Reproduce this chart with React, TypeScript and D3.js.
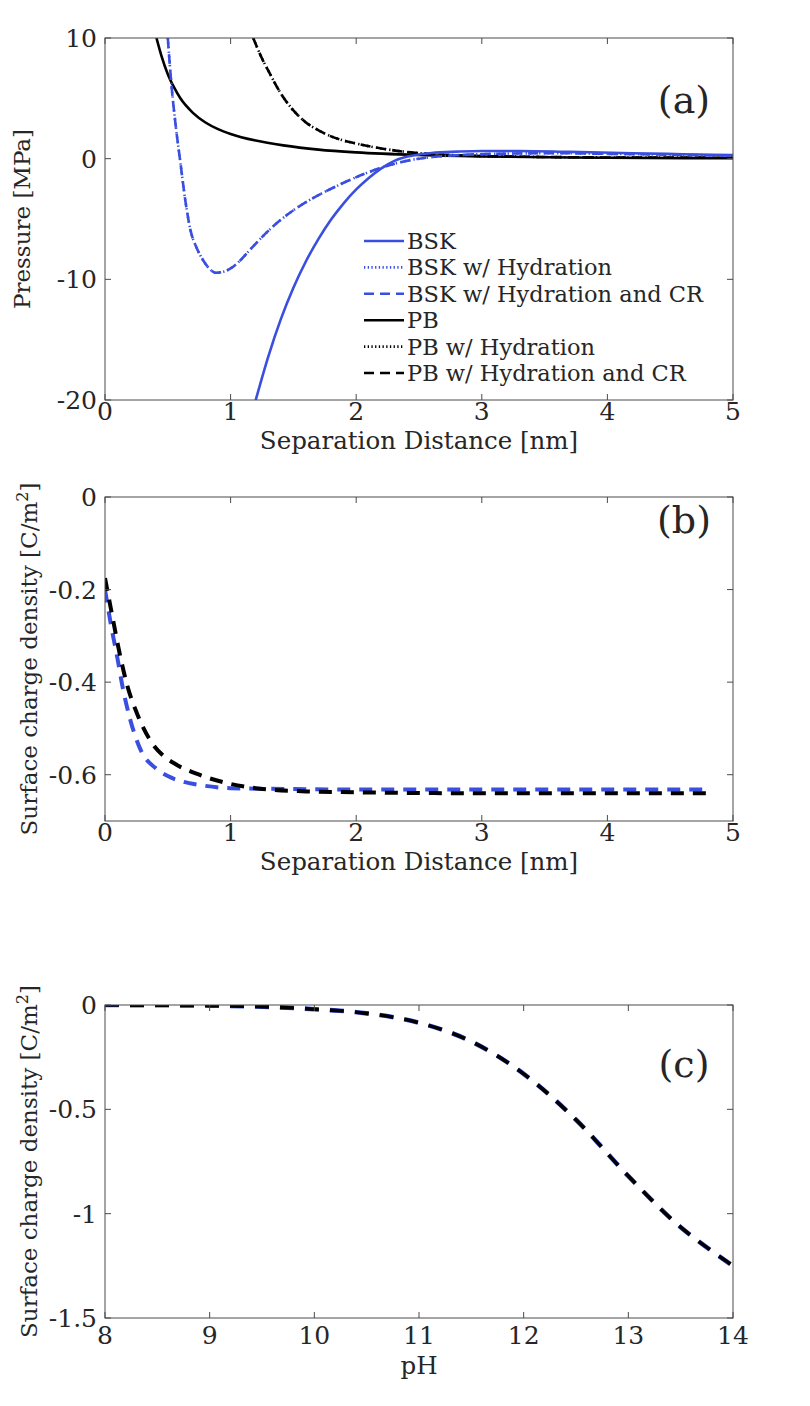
import React from "react";
import * as d3 from "d3";

// ---------- data ----------
// Panel (a): pressure [MPa] vs separation distance [nm]
const pbX = [0.41, 0.45, 0.5, 0.55, 0.6, 0.7, 0.8, 0.9, 1.0, 1.2, 1.42, 1.7, 2.0, 2.5, 3.0, 4.0, 5.0];
const pbY = [10, 8.5, 7.0, 5.9, 5.0, 3.8, 3.0, 2.45, 2.05, 1.5, 1.1, 0.75, 0.52, 0.3, 0.18, 0.08, 0.03];

const pbHydX = [1.18, 1.25, 1.3, 1.4, 1.5, 1.6, 1.7, 1.8, 2.0, 2.2, 2.5, 3.0, 3.5, 4.0, 5.0];
const pbHydY = [10, 8.3, 7.3, 5.4, 4.0, 3.0, 2.35, 1.85, 1.25, 0.85, 0.45, 0.22, 0.14, 0.1, 0.08];

const bskX = [1.2, 1.3, 1.4, 1.5, 1.6, 1.7, 1.8, 1.9, 2.0, 2.1, 2.2, 2.3, 2.4, 2.5, 2.6, 2.8, 3.0, 3.3, 3.7, 4.2, 4.6, 5.0];
const bskY = [-20, -16.4, -13.3, -10.7, -8.5, -6.65, -5.05, -3.7, -2.55, -1.6, -0.8, -0.2, 0.15, 0.35, 0.47, 0.58, 0.64, 0.64, 0.56, 0.45, 0.37, 0.3];

const bskHydX = [0.5, 0.53, 0.56, 0.6, 0.64, 0.68, 0.73, 0.78, 0.83, 0.88, 0.95, 1.0, 1.07, 1.15, 1.25, 1.35, 1.47, 1.6, 1.75, 1.9, 2.08, 2.2, 2.35, 2.5, 2.65, 2.83, 3.2, 3.6, 4.0, 4.5, 5.0];
const bskHydY = [10, 6, 3, -0.3, -3.5, -5.9, -7.4, -8.4, -9.1, -9.45, -9.35, -9.1, -8.5, -7.6, -6.5, -5.5, -4.5, -3.6, -2.75, -2.0, -1.2, -0.75, -0.3, 0.0, 0.18, 0.3, 0.42, 0.45, 0.4, 0.33, 0.25];

// Panel (b): surface charge density [C/m^2] vs separation distance [nm]
const sepBlueX = [0, 0.05, 0.1, 0.14, 0.2, 0.29, 0.4, 0.5, 0.62, 0.75, 1.0, 1.5, 2.0, 3.0, 4.0, 4.8];
const sepBlueY = [-0.2, -0.28, -0.35, -0.41, -0.48, -0.55, -0.585, -0.603, -0.615, -0.622, -0.629, -0.631, -0.632, -0.632, -0.632, -0.632];
const sepBlackX = [0, 0.06, 0.115, 0.18, 0.254, 0.37, 0.46, 0.56, 0.75, 1.0, 1.3, 1.6, 2.0, 3.0, 4.0, 4.8];
const sepBlackY = [-0.175, -0.26, -0.336, -0.41, -0.467, -0.53, -0.558, -0.577, -0.6, -0.62, -0.632, -0.636, -0.638, -0.64, -0.64, -0.64];

// Panel (c): surface charge density [C/m^2] vs pH
const phX = [8, 8.5, 9, 9.5, 10, 10.5, 11, 11.5, 12, 12.5, 13, 13.5, 13.8, 14];
const phY = [0, -0.001, -0.003, -0.008, -0.02, -0.04, -0.085, -0.175, -0.33, -0.55, -0.82, -1.065, -1.18, -1.25];

const ticksA_X = [0, 1, 2, 3, 4, 5];
const ticksA_Y = [10, 0, -10, -20];
const ticksB_X = [0, 1, 2, 3, 4, 5];
const ticksB_Y = [0, -0.2, -0.4, -0.6];
const ticksC_X = [8, 9, 10, 11, 12, 13, 14];
const ticksC_Y = [0, -0.5, -1, -1.5];

const legendLabels = [
  "BSK",
  "BSK w/ Hydration",
  "BSK w/ Hydration and CR",
  "PB",
  "PB w/ Hydration",
  "PB w/ Hydration and CR",
];

// ---------- styles ----------
const BLUE = "#3a4fe0";
const BLACK = "#000000";
const AXIS = "#4a4a4a";
const TXT = "#262626";
const FONT = "'DejaVu Serif', 'Liberation Serif', serif";

const PL = 105;
const PR = 733;

type Series = { xs: number[]; ys: number[]; color: string; width: number; dash?: string };

function zip(xs: number[], ys: number[]): [number, number][] {
  return xs.map((x, i) => [x, ys[i]]);
}

function Panel(props: {
  id: string;
  top: number;
  bottom: number;
  xDomain: [number, number];
  yDomain: [number, number];
  xTicks: number[];
  yTicks: number[];
  series: Series[];
  xTitle: string;
  yTitle: React.ReactNode;
  yTitleX: number;
  tag: string;
  tagY: number;
  xTickOffset: number;
  xTitleOffset: number;
  children?: React.ReactNode;
}) {
  const { id, top, bottom } = props;
  const x = d3.scaleLinear().domain(props.xDomain).range([PL, PR]);
  const y = d3.scaleLinear().domain(props.yDomain).range([bottom, top]);
  const tl = 6;
  const line = d3
    .line<[number, number]>()
    .x((d) => x(d[0]))
    .y((d) => y(d[1]))
    .curve(d3.curveMonotoneX);
  return (
    <g>
      <defs>
        <clipPath id={id}>
          <rect x={PL} y={top} width={PR - PL} height={bottom - top} />
        </clipPath>
      </defs>
      <g clipPath={`url(#${id})`}>
        {props.series.map((s, i) => (
          <path
            key={i}
            d={line(zip(s.xs, s.ys)) || ""}
            fill="none"
            stroke={s.color}
            strokeWidth={s.width}
            strokeDasharray={s.dash}
            strokeLinejoin="round"
          />
        ))}
      </g>
      <rect x={PL} y={top} width={PR - PL} height={bottom - top} fill="none" stroke={AXIS} strokeWidth={1} />
      {props.xTicks.map((t) => (
        <g key={"xt" + t}>
          <line x1={x(t)} x2={x(t)} y1={bottom} y2={bottom - tl} stroke={AXIS} />
          <line x1={x(t)} x2={x(t)} y1={top} y2={top + tl} stroke={AXIS} />
          <text x={x(t)} y={bottom + props.xTickOffset} textAnchor="middle" fontFamily={FONT} fontSize={25} fill={TXT}>
            {String(t)}
          </text>
        </g>
      ))}
      {props.yTicks.map((t) => (
        <g key={"yt" + t}>
          <line x1={PL} x2={PL + tl} y1={y(t)} y2={y(t)} stroke={AXIS} />
          <line x1={PR} x2={PR - tl} y1={y(t)} y2={y(t)} stroke={AXIS} />
          <text x={PL - 8} y={y(t) + 9} textAnchor="end" fontFamily={FONT} fontSize={25} fill={TXT}>
            {String(t)}
          </text>
        </g>
      ))}
      <text
        x={(PL + PR) / 2}
        y={bottom + props.xTitleOffset}
        textAnchor="middle"
        fontFamily={FONT}
        fontSize={24.5}
        fill={TXT}
      >
        {props.xTitle}
      </text>
      <text
        transform={`translate(${props.yTitleX},${(top + bottom) / 2}) rotate(-90)`}
        textAnchor="middle"
        fontFamily={FONT}
        fontSize={23}
        fill={TXT}
      >
        {props.yTitle}
      </text>
      <text x={684} y={props.tagY} textAnchor="middle" fontFamily={FONT} fontSize={38} fill={TXT}>
        {props.tag}
      </text>
      {props.children}
    </g>
  );
}

const DOT = "1.3 3.2";
const DASH = "10 6";

const seriesA: Series[] = [
  { xs: pbX, ys: pbY, color: BLACK, width: 2.6 },
  { xs: pbHydX, ys: pbHydY, color: BLACK, width: 2.6, dash: DOT },
  { xs: pbHydX, ys: pbHydY, color: BLACK, width: 2.6, dash: DASH },
  { xs: bskX, ys: bskY, color: BLUE, width: 2.6 },
  { xs: bskHydX, ys: bskHydY, color: BLUE, width: 2.6, dash: DOT },
  { xs: bskHydX, ys: bskHydY, color: BLUE, width: 2.6, dash: DASH },
];

const legendStyles = [
  { color: BLUE, dash: undefined as string | undefined },
  { color: BLUE, dash: "1.3 2.4" },
  { color: BLUE, dash: "10 6" },
  { color: BLACK, dash: undefined },
  { color: BLACK, dash: "1.3 2.4" },
  { color: BLACK, dash: "10 6" },
];

const seriesB: Series[] = [
  { xs: sepBlueX, ys: sepBlueY, color: BLUE, width: 4, dash: "13 9" },
  { xs: sepBlackX, ys: sepBlackY, color: BLACK, width: 4, dash: "13 9" },
];

const seriesC: Series[] = [
  { xs: phX, ys: phY, color: BLUE, width: 4.6, dash: "14 11" },
  { xs: phX, ys: phY, color: BLACK, width: 3.6, dash: "14 11" },
];

const scdTitle = (
  <>
    Surface charge density [C/m
    <tspan dy={-9} fontSize={16}>
      2
    </tspan>
    <tspan dy={9}>]</tspan>
  </>
);

export default function App() {
  return (
    <svg width={810} height={1406} style={{ display: "block", position: "absolute", left: 0, top: 0, background: "#fff" }}>
      <rect x={0} y={0} width={810} height={1406} fill="#fff" />
      <Panel
        id="clipA"
        top={38}
        bottom={400}
        xDomain={[0, 5]}
        yDomain={[-20, 10]}
        xTicks={ticksA_X}
        yTicks={ticksA_Y}
        series={seriesA}
        xTitle="Separation Distance [nm]"
        yTitle="Pressure [MPa]"
        yTitleX={30}
        tag="(a)"
        tagY={113}
        xTickOffset={20}
        xTitleOffset={49}
      >
        <g>
          {legendLabels.map((lab, i) => {
            const ly = 241 + i * 26.4;
            return (
              <g key={lab}>
                <line
                  x1={364}
                  x2={404}
                  y1={ly}
                  y2={ly}
                  stroke={legendStyles[i].color}
                  strokeWidth={2.6}
                  strokeDasharray={legendStyles[i].dash}
                />
                <text x={407} y={ly + 8} fontFamily={FONT} fontSize={22.5} fill={TXT}>
                  {lab}
                </text>
              </g>
            );
          })}
        </g>
      </Panel>
      <Panel
        id="clipB"
        top={497}
        bottom={821}
        xDomain={[0, 5]}
        yDomain={[-0.7, 0]}
        xTicks={ticksB_X}
        yTicks={ticksB_Y}
        series={seriesB}
        xTitle="Separation Distance [nm]"
        yTitle={scdTitle}
        yTitleX={37}
        tag="(b)"
        tagY={533}
        xTickOffset={20}
        xTitleOffset={49}
      />
      <Panel
        id="clipC"
        top={1005}
        bottom={1318}
        xDomain={[8, 14]}
        yDomain={[-1.5, 0]}
        xTicks={ticksC_X}
        yTicks={ticksC_Y}
        series={seriesC}
        xTitle="pH"
        yTitle={scdTitle}
        yTitleX={37}
        tag="(c)"
        tagY={1077}
        xTickOffset={26}
        xTitleOffset={56}
      />
    </svg>
  );
}
